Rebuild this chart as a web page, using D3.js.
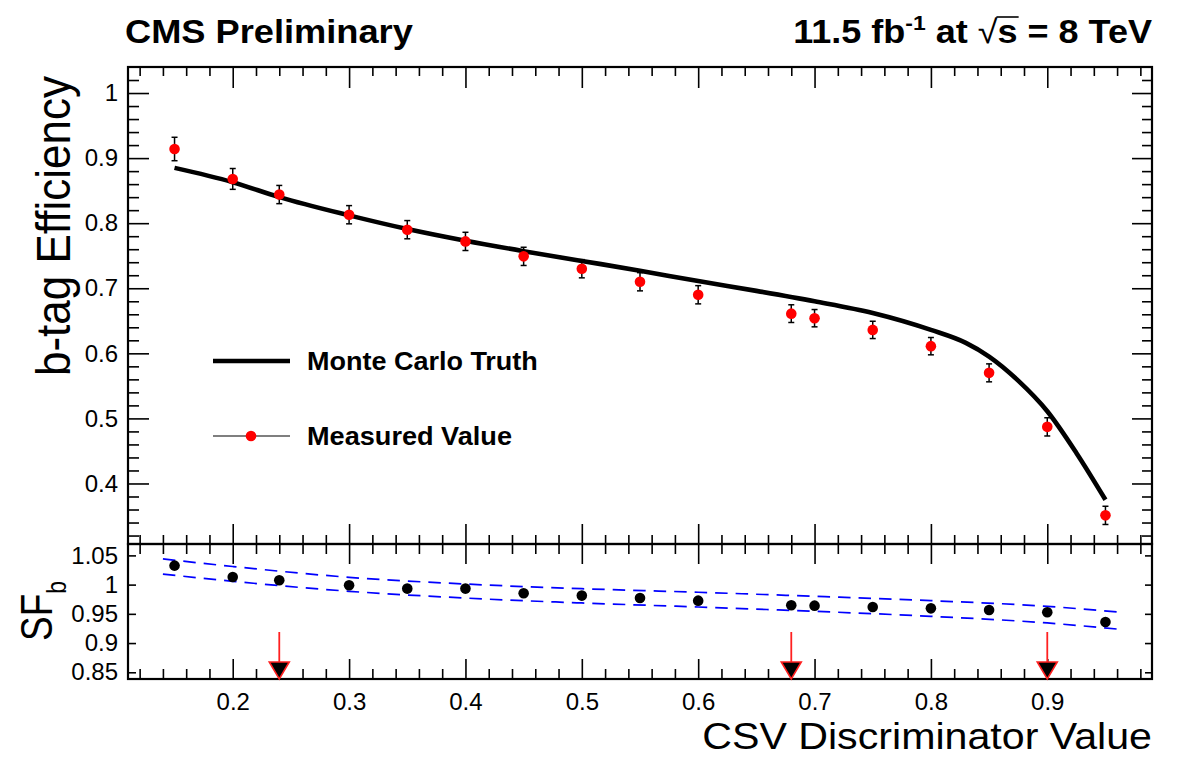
<!DOCTYPE html>
<html><head><meta charset="utf-8">
<script src="https://cdn.jsdelivr.net/npm/d3@7"></script>
<style>
body{margin:0;background:#fff}
svg{display:block}
text{font-family:"Liberation Sans",Arial,Helvetica,sans-serif;fill:#000}
</style>
</head><body>
<svg id="c" width="1180" height="759"></svg>
<script>
// ---------------- data ----------------
const csvValues   = [0.15,0.2,0.24,0.3,0.35,0.4,0.45,0.5,0.55,0.6,0.68,0.7,0.75,0.8,0.85,0.9,0.95];
const bEfficiency = [0.914,0.868,0.844,0.813,0.790,0.772,0.749,0.730,0.710,0.690,0.661,0.654,0.636,0.611,0.570,0.487,0.351];
const bEffError   = [0.018,0.016,0.014,0.014,0.014,0.014,0.014,0.014,0.014,0.014,0.0136,0.0133,0.0133,0.0133,0.0138,0.014,0.014];
const mcCsv        = [0.15,0.2,0.24,0.3,0.35,0.4,0.45,0.5,0.55,0.6,0.65,0.7,0.75,0.8,0.83,0.85,0.875,0.9,0.925,0.95];
const mcEfficiency = [0.885,0.863,0.840,0.812,0.791,0.773,0.757,0.742,0.727,0.711,0.696,0.680,0.662,0.636,0.616,0.595,0.558,0.511,0.447,0.375];
const scaleFactor = [1.0325,1.0131,1.0074,0.9989,0.9932,0.9932,0.9852,0.9812,0.977,0.9726,0.9646,0.964,0.9617,0.9594,0.9566,0.9526,0.936];
const bandCsv   = [0.14,0.2,0.3,0.4,0.5,0.6,0.7,0.8,0.9,0.96];
const bandUpper = [1.044,1.031,1.0125,1.001,0.993,0.9869,0.980,0.9726,0.9628,0.9532];
const bandLower = [1.018,1.0057,0.9886,0.977,0.9686,0.9617,0.9543,0.9457,0.9344,0.924];
const workingPoints = [0.24,0.68,0.9];
const xTicks = [0.2,0.3,0.4,0.5,0.6,0.7,0.8,0.9];
const xTickLabels = ["0.2","0.3","0.4","0.5","0.6","0.7","0.8","0.9"];
const effTicks = [0.4,0.5,0.6,0.7,0.8,0.9,1.0];
const effTickLabels = ["0.4","0.5","0.6","0.7","0.8","0.9","1"];
const sfTicks = [0.85,0.9,0.95,1.0,1.05];
const sfTickLabels = ["0.85","0.9","0.95","1","1.05"];
const legendLabels = ["Monte Carlo Truth","Measured Value"];

// ---------------- layout ----------------
const FONT = '"Liberation Sans",Arial,Helvetica,sans-serif';
const L = 128, R = 1152, T = 67, M = 544, B = 679;
const svg = d3.select("#c");
const x = d3.scaleLinear().domain([0.11, 0.99]).range([L, R]);
const yTop = d3.scaleLinear().domain([0.307, 1.04]).range([M, T]);
const yBot = d3.scaleLinear().domain([0.8385, 1.0695]).range([B, M]);

const xMinor = d3.range(6, 50).map(i => +(i * 0.02).toFixed(2)).filter(v => !xTicks.some(t => Math.abs(t - v) < 1e-6));
const effMinor = d3.range(16, 52).map(i => +(i * 0.02).toFixed(2)).filter(v => !effTicks.some(t => Math.abs(t - v) < 1e-6));

function axisG(gen, tx, ty) {
  const g = svg.append("g").attr("transform", `translate(${tx},${ty})`).call(gen);
  g.select(".domain").remove();
  g.attr("font-family", FONT).attr("font-size", 24);
  g.selectAll("line").attr("stroke", "#000").attr("stroke-width", 1.6);
  g.selectAll("text").attr("fill", "#000");
  return g;
}
const none = () => "";

// top panel ticks
axisG(d3.axisTop(x).tickValues(xTicks).tickSize(20).tickFormat(none), 0, M);
axisG(d3.axisTop(x).tickValues(xMinor).tickSize(9).tickFormat(none), 0, M);
axisG(d3.axisBottom(x).tickValues(xTicks).tickSize(21).tickFormat(none), 0, T);
axisG(d3.axisBottom(x).tickValues(xMinor).tickSize(9).tickFormat(none), 0, T);
axisG(d3.axisLeft(yTop).tickValues(effTicks).tickSize(-21).tickPadding(10).tickFormat((d, i) => effTickLabels[i]), L, 0);
axisG(d3.axisLeft(yTop).tickValues(effMinor).tickSize(-11).tickFormat(none), L, 0);
axisG(d3.axisRight(yTop).tickValues(effTicks).tickSize(-20).tickFormat(none), R, 0);
axisG(d3.axisRight(yTop).tickValues(effMinor).tickSize(-10).tickFormat(none), R, 0);

// bottom panel ticks
axisG(d3.axisBottom(x).tickValues(xTicks).tickSize(-20).tickPadding(14).tickFormat((d, i) => xTickLabels[i]), 0, B);
axisG(d3.axisBottom(x).tickValues(xMinor).tickSize(-10).tickFormat(none), 0, B);
axisG(d3.axisBottom(x).tickValues(xTicks).tickSize(20).tickFormat(none), 0, M);
axisG(d3.axisBottom(x).tickValues(xMinor).tickSize(10).tickFormat(none), 0, M);
axisG(d3.axisLeft(yBot).tickValues(sfTicks).tickSize(-8).tickPadding(10).tickFormat((d, i) => sfTickLabels[i]), L, 0);
axisG(d3.axisRight(yBot).tickValues(sfTicks).tickSize(-7).tickFormat(none), R, 0);

// frames
svg.append("rect").attr("x", L).attr("y", T).attr("width", R - L).attr("height", M - T)
  .attr("fill", "none").attr("stroke", "#000").attr("stroke-width", 2.2);
svg.append("rect").attr("x", L).attr("y", M).attr("width", R - L).attr("height", B - M)
  .attr("fill", "none").attr("stroke", "#000").attr("stroke-width", 2.2);

// MC truth curve
const mcLine = d3.line().x(d => x(d[0])).y(d => yTop(d[1])).curve(d3.curveMonotoneX);
svg.append("path").datum(mcCsv.map((v, i) => [v, mcEfficiency[i]]))
  .attr("d", mcLine).attr("fill", "none").attr("stroke", "#000").attr("stroke-width", 4.6);

// measured points with error bars
const meas = csvValues.map((v, i) => ({x: v, y: bEfficiency[i], e: bEffError[i], sf: scaleFactor[i]}));
const eb = svg.append("g").attr("stroke", "#000").attr("stroke-width", 1.5);
meas.forEach(d => {
  const cx = x(d.x), y1 = yTop(d.y + d.e), y2 = yTop(d.y - d.e);
  eb.append("line").attr("x1", cx).attr("x2", cx).attr("y1", y1).attr("y2", y2);
  eb.append("line").attr("x1", cx - 3).attr("x2", cx + 3).attr("y1", y1).attr("y2", y1);
  eb.append("line").attr("x1", cx - 3).attr("x2", cx + 3).attr("y1", y2).attr("y2", y2);
});
svg.append("g").selectAll("circle").data(meas).join("circle")
  .attr("cx", d => x(d.x)).attr("cy", d => yTop(d.y)).attr("r", 5.3).attr("fill", "#ff0000");

// legend
const lg = svg.append("g");
lg.append("line").attr("x1", 213).attr("x2", 290).attr("y1", 361).attr("y2", 361)
  .attr("stroke", "#000").attr("stroke-width", 4.6);
lg.append("line").attr("x1", 213).attr("x2", 290).attr("y1", 436).attr("y2", 436)
  .attr("stroke", "#000").attr("stroke-width", 1.2);
lg.append("circle").attr("cx", 251).attr("cy", 436).attr("r", 5.3).attr("fill", "#ff0000");

function stretchedText(parent, tx, ty, str, size, weight, width, anchor) {
  const g = parent.append("g");
  const t = g.append("text").attr("font-size", size).attr("font-weight", weight)
    .attr("text-anchor", anchor || "start").text(str);
  const w = t.node().getComputedTextLength();
  g.attr("transform", `translate(${tx},${ty}) scale(${width / w},1)`);
  return g;
}
stretchedText(lg, 307, 370, legendLabels[0], 25, "bold", 231);
stretchedText(lg, 307, 445, legendLabels[1], 25, "bold", 205);

// scale factor panel
const bandLine = d3.line().x(d => x(d[0])).y(d => yBot(d[1])).curve(d3.curveMonotoneX);
[bandUpper, bandLower].forEach(arr => {
  svg.append("path").datum(bandCsv.map((v, i) => [v, arr[i]])).attr("d", bandLine)
    .attr("fill", "none").attr("stroke", "#0000ff").attr("stroke-width", 1.7)
    .attr("stroke-dasharray", "12.5,8");
});
svg.append("g").selectAll("circle").data(meas).join("circle")
  .attr("cx", d => x(d.x)).attr("cy", d => yBot(d.sf)).attr("r", 5.3).attr("fill", "#000");

// working point arrows
const wp = svg.append("g");
workingPoints.forEach(v => {
  const cx = x(v);
  wp.append("line").attr("x1", cx).attr("x2", cx).attr("y1", 632).attr("y2", 662)
    .attr("stroke", "#ff2020").attr("stroke-width", 1.8);
  wp.append("path").attr("d", `M${cx - 10},${662}L${cx + 10},${662}L${cx},${B}Z`)
    .attr("fill", "#000").attr("stroke", "#ff2020").attr("stroke-width", 1.6).attr("stroke-linejoin", "miter");
});

// titles
stretchedText(svg, 125, 43, "CMS Preliminary", 33, "bold", 288);

const rg = svg.append("g");
const rt = rg.append("text").attr("font-size", 33).attr("font-weight", "bold").attr("text-anchor", "end");
rt.append("tspan").text("11.5 fb");
rt.append("tspan").attr("font-size", 21).attr("dy", -13).text("-1");
rt.append("tspan").attr("dy", 13).text(" at ");
rt.append("tspan").attr("font-weight", "normal").text("\u221A");
rt.append("tspan").text("s");
rt.append("tspan").text(" = 8 TeV");
const rw = rt.node().getComputedTextLength();
const rs = 359 / rw;
rg.attr("transform", `translate(${R},43) scale(${rs},1)`);
{
  const full = rt.node().textContent;
  const si = full.indexOf("s", full.indexOf("\u221A"));
  const e1 = rt.node().getExtentOfChar(si - 1), e2 = rt.node().getExtentOfChar(si);
  rg.append("line").attr("x1", e1.x + e1.width - 1).attr("x2", e2.x + e2.width + 1)
    .attr("y1", -26).attr("y2", -26).attr("stroke", "#000").attr("stroke-width", 1.6);
}

// axis titles
stretchedText(svg, R, 749, "CSV Discriminator Value", 37, "normal", 450, "end");

svg.append("text").attr("transform", `translate(70,76) scale(1.15,1) rotate(-90)`)
  .attr("font-size", 41).attr("text-anchor", "end").attr("textLength", 300)
  .attr("lengthAdjust", "spacingAndGlyphs").text("b-tag Efficiency");

const sft = svg.append("text").attr("transform", `translate(52,611) scale(1.2,1) rotate(-90)`)
  .attr("font-size", 37).attr("text-anchor", "middle");
sft.append("tspan").text("SF");
sft.append("tspan").attr("font-size", 23).attr("dy", 12).text("b");
</script>
</body></html>
